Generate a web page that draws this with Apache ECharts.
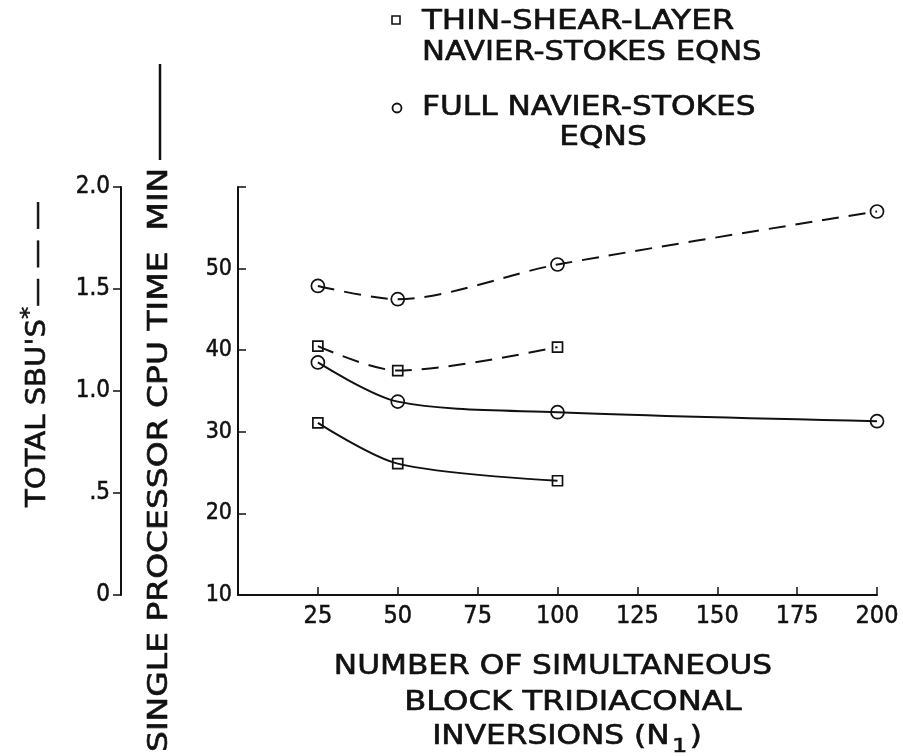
<!DOCTYPE html>
<html style="height: 100%">
<head>
    <meta charset="UTF-8">
    <title>CPU time and SBU's</title>
    <script src="https://cdn.jsdelivr.net/npm/echarts@6/dist/echarts.min.js"></script>
</head>
<body style="height: 100%; margin: 0; background: #fff">
    <div id="main" style="width: 903px; height: 756px;"></div>

    <script>
        // data
        var xTicks = [25, 50, 75, 100, 125, 150, 175, 200];
        var sbuTickLabels = { 0: '0', 0.5: '.5', 1: '1.0', 1.5: '1.5', 2: '2.0' };

        // single processor CPU time, min (solid lines)
        var thinCpu = [[25, 31.1], [50, 26.1], [100, 24.0]];
        var fullCpu = [[25, 38.5], [50, 33.7], [100, 32.4], [200, 31.3]];
        // total SBU's (dashed lines)
        var thinSbu = [[25, 1.22], [50, 1.10], [100, 1.215]];
        var fullSbu = [[25, 1.515], [50, 1.45], [100, 1.62], [200, 1.88]];

        var ink = '#111';
        var font = "'DejaVu Sans', sans-serif";
        var numFont = "'DejaVu Sans Condensed', 'Liberation Sans', sans-serif";

        var myChart = echarts.init(document.getElementById('main'));

        function makeSeries(name, data, axis, shape, dashed) {
            return {
                name: name,
                type: 'line',
                yAxisIndex: axis,
                data: data,
                smooth: 0.3,
                symbol: shape === 'square' ? 'rect' : 'circle',
                symbolSize: shape === 'square' ? 10 : 13,
                itemStyle: { color: 'rgba(0,0,0,0)', borderColor: ink, borderWidth: 1.7 },
                lineStyle: { color: ink, width: 2, type: dashed ? [17, 10] : 'solid' },
                emphasis: { disabled: true },
                z: 3
            };
        }

        function txt(x, y, text, opt) {
            opt = opt || {};
            return {
                type: 'text',
                x: x,
                y: y,
                rotation: opt.rotation || 0,
                scaleX: opt.scaleX || 1.2,
                style: {
                    text: text,
                    font: (opt.size || 26) + 'px ' + font,
                    fill: ink,
                    stroke: ink,
                    lineWidth: 0.6,
                    align: opt.align || 'left',
                    verticalAlign: 'middle',
                    textAlign: opt.align || 'left',
                    textVerticalAlign: 'middle',
                    rich: opt.rich
                }
            };
        }

        var labelBase = { color: ink, fontFamily: numFont, textBorderColor: ink, textBorderWidth: 0.5 };

        var option = {
            backgroundColor: '#fff',
            animation: false,
            grid: { left: 238, right: 26, top: 187, bottom: 161 },
            xAxis: {
                type: 'value',
                min: 0,
                max: 200,
                interval: 25,
                axisLine: { lineStyle: { color: ink, width: 2 } },
                axisTick: { inside: true, length: 8, lineStyle: { color: ink, width: 1.5 } },
                splitLine: { show: false },
                axisLabel: Object.assign({}, labelBase, {
                    margin: 9,
                    fontSize: 25,
                    formatter: function (v) { return xTicks.indexOf(v) >= 0 ? String(v) : ''; }
                })
            },
            yAxis: [
                {
                    type: 'value',
                    position: 'left',
                    min: 10,
                    max: 60,
                    interval: 10,
                    axisLine: { show: true, lineStyle: { color: ink, width: 2 } },
                    axisTick: { show: true, inside: true, length: 8, lineStyle: { color: ink, width: 1.5 } },
                    splitLine: { show: false },
                    axisLabel: Object.assign({}, labelBase, {
                        margin: 6,
                        fontSize: 23,
                        formatter: function (v) { return v === 60 ? '' : String(v); }
                    })
                },
                {
                    type: 'value',
                    position: 'left',
                    offset: 117,
                    min: 0,
                    max: 2,
                    interval: 0.5,
                    axisLine: { show: true, lineStyle: { color: ink, width: 2 } },
                    axisTick: { show: true, length: 8, lineStyle: { color: ink, width: 1.5 } },
                    splitLine: { show: false },
                    axisLabel: Object.assign({}, labelBase, {
                        margin: 11,
                        fontSize: 24,
                        formatter: function (v) { return sbuTickLabels[v] || ''; }
                    })
                }
            ],
            graphic: [
                // legend
                { type: 'rect', shape: { x: 392, y: 16, width: 8, height: 8 }, style: { fill: 'none', stroke: ink, lineWidth: 1.6 } },
                txt(422, 22, 'THIN-SHEAR-LAYER', { scaleX: 1.25 }),
                txt(422, 53, 'NAVIER-STOKES EQNS', { scaleX: 1.18 }),
                { type: 'circle', shape: { cx: 397, cy: 108, r: 4.5 }, style: { fill: 'none', stroke: ink, lineWidth: 1.8 } },
                txt(422, 108, 'FULL NAVIER-STOKES', { scaleX: 1.2 }),
                txt(603, 138, 'EQNS', { align: 'center' }),
                // x axis title
                txt(553, 667, 'NUMBER OF SIMULTANEOUS', { align: 'center' }),
                txt(573, 703, 'BLOCK TRIDIACONAL', { align: 'center', scaleX: 1.24 }),
                txt(567, 737, '{a|INVERSIONS (N}{s|1}{a|)}', {
                    align: 'center',
                    rich: {
                        a: { fontSize: 26, fontFamily: font, fill: ink, color: ink },
                        s: { fontSize: 20, fontFamily: font, fill: ink, color: ink, padding: [20, 2, 0, 2] }
                    }
                }),
                // y axis titles (rotated)
                txt(38, 507, "{a|TOTAL SBU'S}{s|*}{a|— — —}", {
                    rotation: Math.PI / 2,
                    scaleX: 1.12,
                    rich: {
                        a: { fontSize: 26, fontFamily: font, fill: ink, color: ink },
                        s: { fontSize: 22, fontFamily: font, fill: ink, color: ink, padding: [0, 0, 16, 0] }
                    }
                }),
                txt(160, 752, 'SINGLE PROCESSOR CPU TIME  MIN', { rotation: Math.PI / 2, size: 27, scaleX: 1.22 }),
                { type: 'line', shape: { x1: 160, y1: 160, x2: 160, y2: 64 }, style: { stroke: ink, lineWidth: 2.5 } }
            ],
            series: [
                makeSeries('thin-shear CPU', thinCpu, 0, 'square', false),
                makeSeries('full CPU', fullCpu, 0, 'circle', false),
                makeSeries('thin-shear SBU', thinSbu, 1, 'square', true),
                makeSeries('full SBU', fullSbu, 1, 'circle', true)
            ]
        };

        myChart.setOption(option);
    </script>
</body>
</html>
